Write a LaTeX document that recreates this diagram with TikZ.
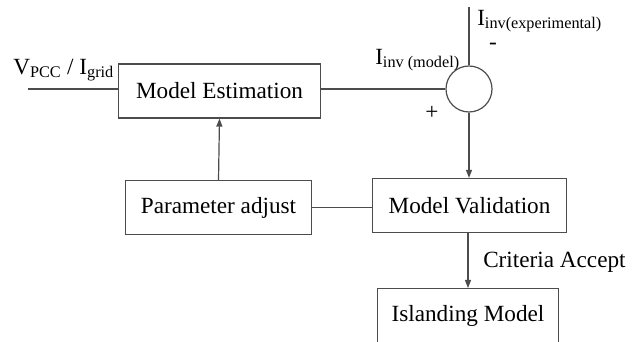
\documentclass[tikz,border=0pt]{standalone}
\usepackage{fontspec}
\setmainfont{Liberation Serif}
\usetikzlibrary{arrows.meta}
\begin{document}
\begin{tikzpicture}[x=0.75pt,y=-0.75pt,
  line/.style={draw=black!70,line width=0.9pt},
  blk/.style={line,fill=white,minimum height=40.5pt,inner sep=0pt,font=\fontsize{17.4}{20}\selectfont},
  lbl/.style={font=\fontsize{17.4}{20}\selectfont,inner sep=0pt},
  sgn/.style={lbl,text height=4pt,text depth=0pt},
  arr/.style={line,-{Triangle[length=6pt,width=4.5pt]}}]
\useasboundingbox (0,0) rectangle (636,342);
\clip (0,0) rectangle (636,342);
% blocks
\node[blk,minimum width=152pt] (est) at (219.5,91) {Model Estimation};
\node[blk,minimum width=140pt] (par) at (218.5,207.5) {Parameter adjust};
\node[blk,minimum width=146pt] (val) at (469.5,205.5) {Model Validation};
\node[blk,minimum width=136pt,minimum height=60pt,anchor=north] (isl) at (468,288) {};
\node[lbl] (islt) at (468,316) {Islanding Model};
% summing junction
\node[line,circle,minimum size=34.5pt,inner sep=0pt] (sum) at (469,89) {};
\coordinate (in) at (28,89);
\coordinate (top) at (469,7);
% connectors
\draw[line] (in) -- (in -| est.west);
\draw[line] (est.east |- sum.west) -- (sum.west);
\draw[line] (top) -- (sum.north);
\draw[arr] (sum.south) -- (sum.south |- val.north);
\draw[line] (par.east) -- (par.east -| val.west);
\draw[arr] (par.north) -- (est.south);
\draw[arr] (val.south -| isl.north) -- (isl.north);
% labels
\node[lbl,anchor=west] at (13,70) {V\textsubscript{PCC} / I\textsubscript{grid}};
\node[lbl,anchor=west] at (375,60) {I\textsubscript{inv (model)}};
\node[lbl,anchor=west] at (477,21) {I\textsubscript{inv(experimental)}};
\node[sgn] at (493,47) {-};
\node[sgn] at (432,117) {+};
\node[lbl,anchor=west] at (483,262) {Criteria Accept};
\end{tikzpicture}
\end{document}
